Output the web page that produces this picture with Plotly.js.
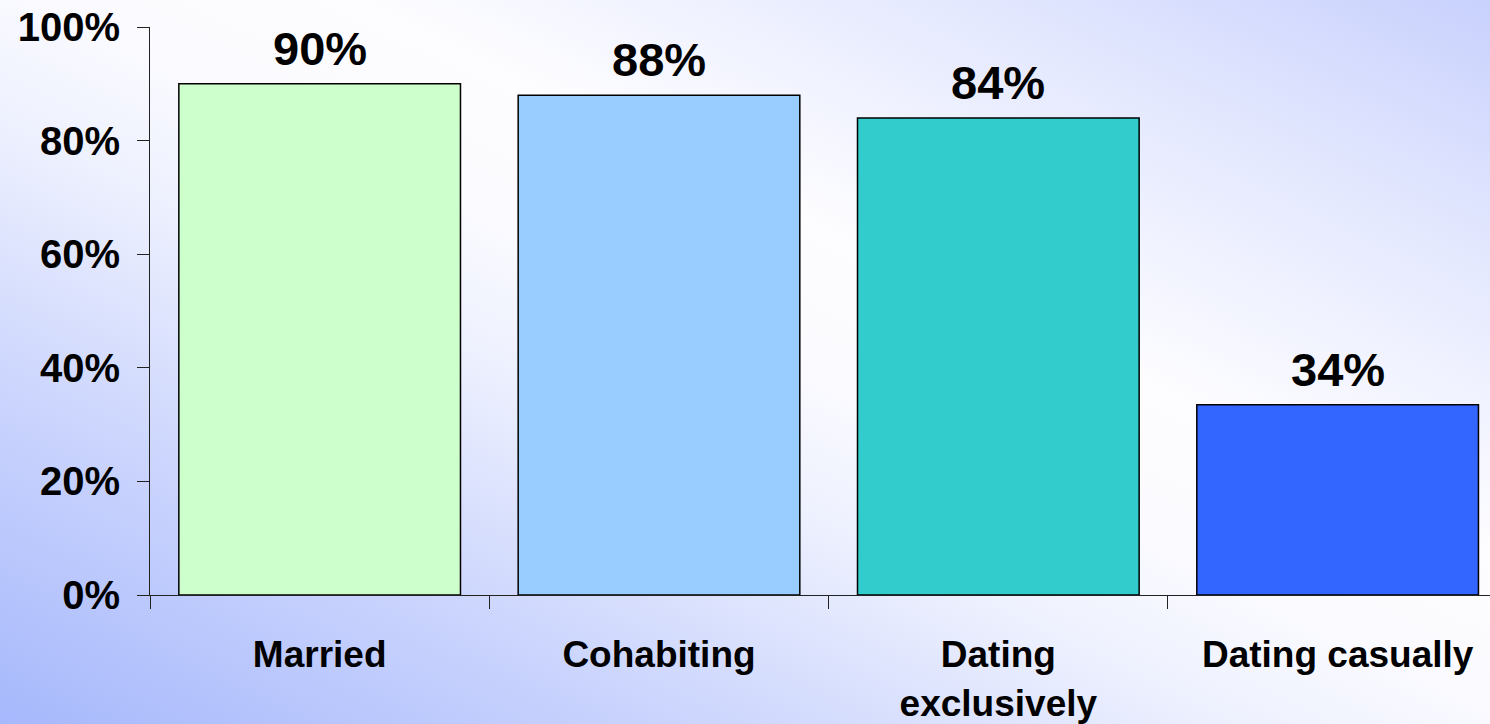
<!DOCTYPE html>
<html>
<head>
<meta charset="utf-8">
<script src="https://cdn.plot.ly/plotly-3.0.1.min.js"></script>
<style>
  html, body { margin: 0; padding: 0; width: 1490px; height: 724px; overflow: hidden; }
  body {
    background: linear-gradient(to top right, #a6b8fc 0%, #c9d3fd 22%, #eef1fe 42%, #fbfbff 52%, #fdfdff 62%, #e4e8fe 82%, #c8d1fd 100%);
  }
  #chart { width: 1490px; height: 724px; }
</style>
</head>
<body>
<div id="chart"></div>
<script>
// Data
const categories = ["Married", "Cohabiting", "Dating<br>exclusively", "Dating casually"];
const values = [90, 88, 84, 33.5];
const valueLabels = ["90%", "88%", "84%", "34%"];
const barColors = ["#CCFFCC", "#99CCFF", "#33CCCC", "#3366FF"];
const yTickValues = [0, 20, 40, 60, 80, 100];
const yTickLabels = ["0%", "20%", "40%", "60%", "80%", "100%"];

const fontFamily = "'Liberation Sans', Arial, sans-serif";

const trace = {
  type: "bar",
  x: categories,
  y: values,
  width: 0.83,
  marker: { color: barColors, line: { color: "#000000", width: 1.5 } },
  hoverinfo: "skip"
};

const annotations = categories.map((c, i) => ({
  x: c,
  y: values[i],
  xref: "x",
  yref: "y",
  text: valueLabels[i],
  showarrow: false,
  yanchor: "bottom",
  yshift: 7,
  font: { family: fontFamily, size: 47, color: "#000000", weight: 700 }
}));

const layout = {
  width: 1490,
  height: 724,
  margin: { l: 150, r: 0, t: 27, b: 129, pad: 0 },
  paper_bgcolor: "rgba(0,0,0,0)",
  plot_bgcolor: "rgba(0,0,0,0)",
  showlegend: false,
  xaxis: {
    type: "category",
    range: [-0.5, 3.449],
    showline: true,
    linecolor: "#222222",
    linewidth: 1,
    ticks: "outside",
    tickson: "boundaries",
    ticklen: 13,
    tickcolor: "#222222",
    tickwidth: 1,
    showgrid: false,
    zeroline: false,
    tickfont: { family: fontFamily, size: 37, color: "#000000", weight: 700 },
    ticklabelstandoff: 27,
    fixedrange: true
  },
  yaxis: {
    range: [0, 100],
    tickvals: yTickValues,
    ticktext: yTickLabels,
    showline: true,
    linecolor: "#222222",
    linewidth: 1,
    ticks: "outside",
    ticklen: 12,
    tickcolor: "#222222",
    tickwidth: 1,
    showgrid: false,
    zeroline: false,
    tickfont: { family: fontFamily, size: 40, color: "#000000", weight: 700 },
    ticklabelstandoff: 9,
    fixedrange: true
  },
  annotations: annotations
};

Plotly.newPlot("chart", [trace], layout, { displayModeBar: false, staticPlot: true });
</script>
</body>
</html>
